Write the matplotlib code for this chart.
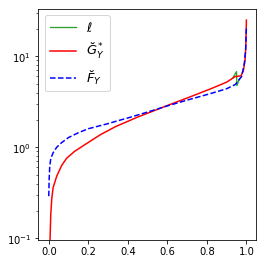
import matplotlib
matplotlib.use("Agg")
import matplotlib.pyplot as plt

# values
x_f = [0.0, 0.002, 0.005, 0.01, 0.022, 0.04, 0.064, 0.1, 0.148, 0.2, 0.3, 0.35,
       0.4, 0.513, 0.6, 0.7, 0.818, 0.9, 0.944, 0.976, 0.99, 0.996, 1.0]
f_y = [0.29, 0.45, 0.62, 0.75, 0.87, 1.0, 1.12, 1.28, 1.44, 1.6, 1.82, 1.96,
       2.1, 2.49, 2.85, 3.3, 3.89, 4.4, 4.9, 6.0, 8.5, 11.8, 20.5]

x_g = [0.005, 0.0066, 0.01, 0.015, 0.022, 0.04, 0.065, 0.091, 0.13, 0.18, 0.26,
       0.336, 0.4, 0.45, 0.513, 0.6, 0.7, 0.818, 0.9, 0.944, 0.973, 0.985,
       0.993, 0.997, 1.0]
g_y = [0.05, 0.1, 0.18, 0.27, 0.36, 0.48, 0.63, 0.76, 0.9, 1.06, 1.37,
       1.68, 1.93, 2.15, 2.43, 2.88, 3.48, 4.38, 5.2, 6.0, 6.1, 7.0,
       9.0, 12.5, 25.0]

x_l = [0.932, 0.950, 0.952, 0.965]
l_y = [5.83, 6.79, 4.76, 5.69]

fig = plt.figure(figsize=(3.7, 3.7), dpi=72)
ax = fig.add_axes([0.143, 0.098, 0.819, 0.868])

ax.plot(x_l, l_y, color="#2ca02c", lw=1.3, label=r"$\ell$")
ax.plot(x_g, g_y, "r-", lw=1.5, label=r"$\breve{G}_Y^*$")
ax.plot(x_f, f_y, "b--", lw=1.5, label=r"$\breve{F}_Y$")

ax.set_yscale("log")
ax.set_xlim(-0.054, 1.05)
ax.set_ylim(0.096, 33.4)
ax.set_xticks([0.0, 0.2, 0.4, 0.6, 0.8, 1.0])

ax.legend(loc="upper left", fontsize=13)

fig.savefig("out.png", dpi=72)
